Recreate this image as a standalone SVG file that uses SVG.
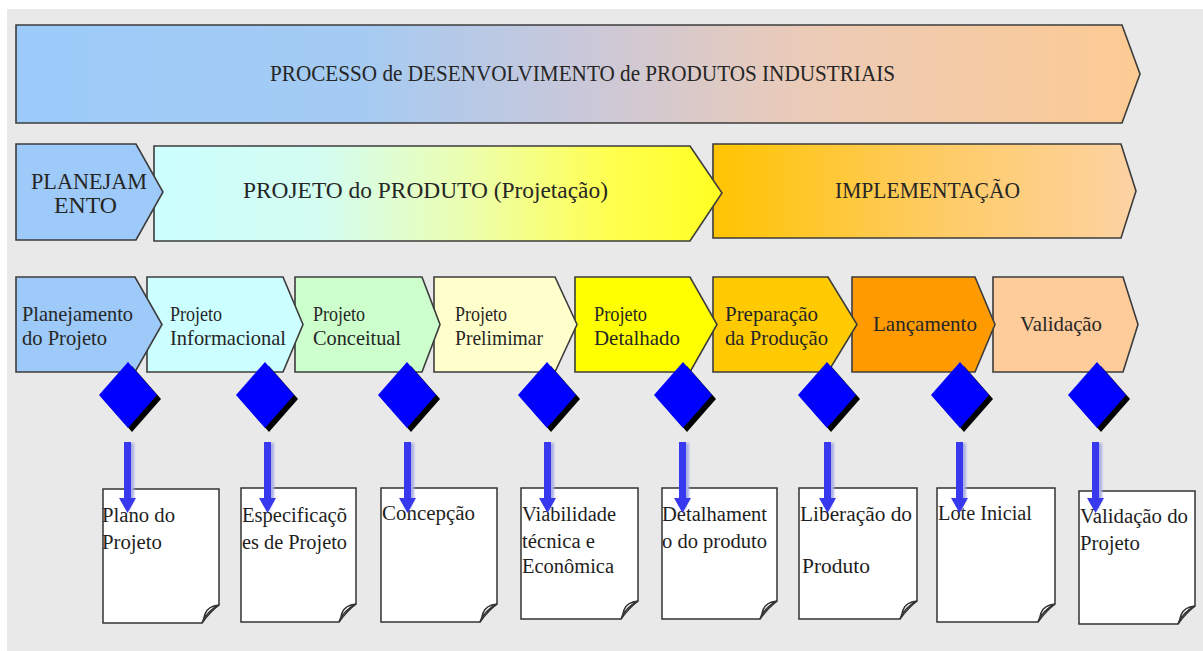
<svg xmlns="http://www.w3.org/2000/svg" width="1203" height="651" viewBox="0 0 1203 651">
<defs>
<linearGradient id="gTop" x1="0" y1="0" x2="1" y2="0">
<stop offset="0" stop-color="#9ccbfa"/>
<stop offset="0.3" stop-color="#a4cbf3"/>
<stop offset="0.5" stop-color="#c9c8da"/>
<stop offset="0.7" stop-color="#ebcbb8"/>
<stop offset="1" stop-color="#fdcb93"/>
</linearGradient>
<linearGradient id="gProj" x1="0" y1="0" x2="1" y2="0">
<stop offset="0" stop-color="#ccffff"/>
<stop offset="0.3" stop-color="#d4fdf0"/>
<stop offset="0.55" stop-color="#ecffb0"/>
<stop offset="0.8" stop-color="#ffff50"/>
<stop offset="1" stop-color="#ffff22"/>
</linearGradient>
<linearGradient id="gImpl" x1="0" y1="0" x2="1" y2="0">
<stop offset="0" stop-color="#ffc400"/>
<stop offset="0.5" stop-color="#fecb60"/>
<stop offset="1" stop-color="#fdd2a4"/>
</linearGradient>
<filter id="blur1" x="-20%" y="-20%" width="140%" height="140%"><feGaussianBlur stdDeviation="1"/></filter>
</defs>
<style>
.box{stroke:#3c3c3c;stroke-width:1.6;stroke-linejoin:miter}
.t{font-family:"Liberation Serif","Times New Roman",serif;fill:#262626}
.big{font-size:24px}
.mid{font-size:22px}
.doc{font-size:20px;fill:#1e1e1e}
.dia{fill:#0000ff}
.sh{fill:#000}
.paper{fill:#fff;stroke:#333;stroke-width:1.5}
.arr{fill:#3838ee}
.arrsh{fill:#aab0e6}
</style>
<rect x="7" y="9" width="1196" height="642" fill="#e9e9e9"/>

<g id="banner-processo">
<path class="box" d="M16,25 H1122 L1140,74 L1122,123 H16 Z" fill="url(#gTop)"/>
<text class="t big" x="270" y="81" textLength="625" lengthAdjust="spacingAndGlyphs">PROCESSO de DESENVOLVIMENTO de PRODUTOS INDUSTRIAIS</text>
</g>

<g id="fase-implementacao">
<path class="box" d="M713,144 H1121 L1136,191 L1121,238 H713 Z" fill="url(#gImpl)"/>
<text class="t big" x="835" y="198" textLength="185" lengthAdjust="spacingAndGlyphs">IMPLEMENTAÇÃO</text>
</g>
<g id="fase-projeto">
<path class="box" d="M154,146 H690 L722,193 L690,241 H154 Z" fill="url(#gProj)"/>
<text class="t big" x="243" y="198" textLength="365" lengthAdjust="spacingAndGlyphs">PROJETO do PRODUTO (Projetação)</text>
</g>
<g id="fase-planejamento">
<path class="box" d="M16,144 H136 L163,192 L136,240 H16 Z" fill="#9dcaf8"/>
<text class="t big" x="31" y="189" textLength="116" lengthAdjust="spacingAndGlyphs">PLANEJAM</text>
<text class="t big" x="54" y="213" textLength="63" lengthAdjust="spacingAndGlyphs">ENTO</text>
</g>

<g id="etapa-validacao">
<path class="box" d="M993,277 H1123 L1138,324.5 L1123,372 H993 Z" fill="#fdcc9a"/>
<text class="t mid" x="1020" y="331" textLength="82" lengthAdjust="spacingAndGlyphs">Validação</text>
</g>
<g id="etapa-lancamento">
<path class="box" d="M852,277 H975 L995,324.5 L975,372 H852 Z" fill="#ff9a00"/>
<text class="t mid" x="873" y="331" textLength="104" lengthAdjust="spacingAndGlyphs" fill="#3a2410">Lançamento</text>
</g>
<g id="etapa-preparacao">
<path class="box" d="M713,277 H828 L857,324.5 L828,372 H713 Z" fill="#ffcb00"/>
<text class="t mid" x="725" y="321" textLength="93" lengthAdjust="spacingAndGlyphs">Preparação</text>
<text class="t mid" x="725" y="345" textLength="103" lengthAdjust="spacingAndGlyphs">da Produção</text>
</g>
<g id="etapa-detalhado">
<path class="box" d="M575,277 H690 L717,324.5 L690,372 H575 Z" fill="#ffff00"/>
<text class="t mid" x="594" y="321" textLength="53" lengthAdjust="spacingAndGlyphs">Projeto</text>
<text class="t mid" x="594" y="345" textLength="86" lengthAdjust="spacingAndGlyphs">Detalhado</text>
</g>
<g id="etapa-preliminar">
<path class="box" d="M434,277 H555 L577,324.5 L555,372 H434 Z" fill="#ffffcc"/>
<text class="t mid" x="455" y="321" textLength="52" lengthAdjust="spacingAndGlyphs">Projeto</text>
<text class="t mid" x="455" y="345" textLength="88" lengthAdjust="spacingAndGlyphs">Prelimimar</text>
</g>
<g id="etapa-conceitual">
<path class="box" d="M295,277 H422 L440,324.5 L422,372 H295 Z" fill="#ccffcc"/>
<text class="t mid" x="313" y="321" textLength="52" lengthAdjust="spacingAndGlyphs">Projeto</text>
<text class="t mid" x="313" y="345" textLength="88" lengthAdjust="spacingAndGlyphs">Conceitual</text>
</g>
<g id="etapa-informacional">
<path class="box" d="M147,277 H283 L303,324.5 L283,372 H147 Z" fill="#ccffff"/>
<text class="t mid" x="170" y="321" textLength="52" lengthAdjust="spacingAndGlyphs">Projeto</text>
<text class="t mid" x="170" y="345" textLength="116" lengthAdjust="spacingAndGlyphs">Informacional</text>
</g>
<g id="etapa-planejamento">
<path class="box" d="M16,277 H135 L162,324.5 L135,372 H16 Z" fill="#9dcaf8"/>
<text class="t mid" x="22" y="321" textLength="111" lengthAdjust="spacingAndGlyphs">Planejamento</text>
<text class="t mid" x="22" y="345" textLength="85" lengthAdjust="spacingAndGlyphs">do Projeto</text>
</g>

<g id="marcos">
<g id="marco-1"><path class="sh" d="M132,366 L161,399 L132,432 L103,399 Z"/><path class="dia" d="M128,362 L157,395 L128,428 L99,395 Z"/></g>
<g id="marco-2"><path class="sh" d="M269,366 L298,399 L269,432 L240,399 Z"/><path class="dia" d="M265,362 L294,395 L265,428 L236,395 Z"/></g>
<g id="marco-3"><path class="sh" d="M411,366 L440,399 L411,432 L382,399 Z"/><path class="dia" d="M407,362 L436,395 L407,428 L378,395 Z"/></g>
<g id="marco-4"><path class="sh" d="M551,366 L580,399 L551,432 L522,399 Z"/><path class="dia" d="M547,362 L576,395 L547,428 L518,395 Z"/></g>
<g id="marco-5"><path class="sh" d="M687,366 L716,399 L687,432 L658,399 Z"/><path class="dia" d="M683,362 L712,395 L683,428 L654,395 Z"/></g>
<g id="marco-6"><path class="sh" d="M831,366 L860,399 L831,432 L802,399 Z"/><path class="dia" d="M827,362 L856,395 L827,428 L798,395 Z"/></g>
<g id="marco-7"><path class="sh" d="M964,366 L993,399 L964,432 L935,399 Z"/><path class="dia" d="M960,362 L989,395 L960,428 L931,395 Z"/></g>
<g id="marco-8"><path class="sh" d="M1101,366 L1130,399 L1101,432 L1072,399 Z"/><path class="dia" d="M1097,362 L1126,395 L1097,428 L1068,395 Z"/></g>
</g>

<g id="doc-1">
<path class="paper" d="M103,489 H219 V605 Q210,612 202,623 H103 Z"/>
<path class="paper" d="M219,605 Q208,606 205,614 Q204,619 202,623 Q206,612 219,605 Z" fill="#f2f2f2"/>
<text class="t doc" x="102" y="522" textLength="73" lengthAdjust="spacingAndGlyphs">Plano do</text>
<text class="t doc" x="102" y="549" textLength="60" lengthAdjust="spacingAndGlyphs">Projeto</text>
</g>
<g id="doc-2">
<path class="paper" d="M241,488 H356 V604 Q347,611 339,622 H241 Z"/>
<path class="paper" d="M356,604 Q345,605 342,613 Q341,618 339,622 Q343,611 356,604 Z" fill="#f2f2f2"/>
<text class="t doc" x="242" y="522" textLength="105" lengthAdjust="spacingAndGlyphs">Especificaçõ</text>
<text class="t doc" x="242" y="549" textLength="105" lengthAdjust="spacingAndGlyphs">es de Projeto</text>
</g>
<g id="doc-3">
<path class="paper" d="M381,488 H497 V604 Q488,611 480,622 H381 Z"/>
<path class="paper" d="M497,604 Q486,605 483,613 Q482,618 480,622 Q484,611 497,604 Z" fill="#f2f2f2"/>
<text class="t doc" x="382" y="520" textLength="93" lengthAdjust="spacingAndGlyphs">Concepção</text>
</g>
<g id="doc-4">
<path class="paper" d="M521,488 H638 V601 Q629,608 621,619 H521 Z"/>
<path class="paper" d="M638,601 Q627,602 624,610 Q623,615 621,619 Q625,608 638,601 Z" fill="#f2f2f2"/>
<text class="t doc" x="522" y="521" textLength="94" lengthAdjust="spacingAndGlyphs">Viabilidade</text>
<text class="t doc" x="522" y="548" textLength="73" lengthAdjust="spacingAndGlyphs">técnica e</text>
<text class="t doc" x="522" y="573" textLength="92" lengthAdjust="spacingAndGlyphs">Econômica</text>
</g>
<g id="doc-5">
<path class="paper" d="M662,488 H777 V601 Q768,608 760,619 H662 Z"/>
<path class="paper" d="M777,601 Q766,602 763,610 Q762,615 760,619 Q764,608 777,601 Z" fill="#f2f2f2"/>
<text class="t doc" x="662" y="521" textLength="105" lengthAdjust="spacingAndGlyphs">Detalhament</text>
<text class="t doc" x="662" y="548" textLength="105" lengthAdjust="spacingAndGlyphs">o do produto</text>
</g>
<g id="doc-6">
<path class="paper" d="M799,488 H917 V601 Q908,608 900,619 H799 Z"/>
<path class="paper" d="M917,601 Q906,602 903,610 Q902,615 900,619 Q904,608 917,601 Z" fill="#f2f2f2"/>
<text class="t doc" x="800" y="521" textLength="112" lengthAdjust="spacingAndGlyphs">Liberação do</text>
<text class="t doc" x="802" y="573" textLength="68" lengthAdjust="spacingAndGlyphs">Produto</text>
</g>
<g id="doc-7">
<path class="paper" d="M937,488 H1055 V604 Q1046,611 1038,622 H937 Z"/>
<path class="paper" d="M1055,604 Q1044,605 1041,613 Q1040,618 1038,622 Q1042,611 1055,604 Z" fill="#f2f2f2"/>
<text class="t doc" x="938" y="520" textLength="94" lengthAdjust="spacingAndGlyphs">Lote Inicial</text>
</g>
<g id="doc-8">
<path class="paper" d="M1079,491 H1195 V606 Q1186,613 1178,624 H1079 Z"/>
<path class="paper" d="M1195,606 Q1184,607 1181,615 Q1180,620 1178,624 Q1182,613 1195,606 Z" fill="#f2f2f2"/>
<text class="t doc" x="1080" y="523" textLength="108" lengthAdjust="spacingAndGlyphs">Validação do</text>
<text class="t doc" x="1080" y="550" textLength="60" lengthAdjust="spacingAndGlyphs">Projeto</text>
</g>

<g id="connectors">
<g id="seta-1"><path class="arrsh" filter="url(#blur1)" d="M127.5,443 H134 V499 L129,513 Z"/><path class="arr" d="M124,442 H131 V498 H136 L127.5,513 L119,498 H124 Z"/></g>
<g id="seta-2"><path class="arrsh" filter="url(#blur1)" d="M267.5,443 H274 V499 L269,513 Z"/><path class="arr" d="M264,442 H271 V498 H276 L267.5,513 L259,498 H264 Z"/></g>
<g id="seta-3"><path class="arrsh" filter="url(#blur1)" d="M407.5,443 H414 V499 L409,513 Z"/><path class="arr" d="M404,442 H411 V498 H416 L407.5,513 L399,498 H404 Z"/></g>
<g id="seta-4"><path class="arrsh" filter="url(#blur1)" d="M547.5,443 H554 V499 L549,513 Z"/><path class="arr" d="M544,442 H551 V498 H556 L547.5,513 L539,498 H544 Z"/></g>
<g id="seta-5"><path class="arrsh" filter="url(#blur1)" d="M682.5,443 H689 V499 L684,513 Z"/><path class="arr" d="M679,442 H686 V498 H691 L682.5,513 L674,498 H679 Z"/></g>
<g id="seta-6"><path class="arrsh" filter="url(#blur1)" d="M827.5,443 H834 V499 L829,513 Z"/><path class="arr" d="M824,442 H831 V498 H836 L827.5,513 L819,498 H824 Z"/></g>
<g id="seta-7"><path class="arrsh" filter="url(#blur1)" d="M959.5,443 H966 V499 L961,513 Z"/><path class="arr" d="M956,442 H963 V498 H968 L959.5,513 L951,498 H956 Z"/></g>
<g id="seta-8"><path class="arrsh" filter="url(#blur1)" d="M1095.5,443 H1102 V499 L1097,513 Z"/><path class="arr" d="M1092,442 H1099 V498 H1104 L1095.5,513 L1087,498 H1092 Z"/></g>
</g>
</svg>
